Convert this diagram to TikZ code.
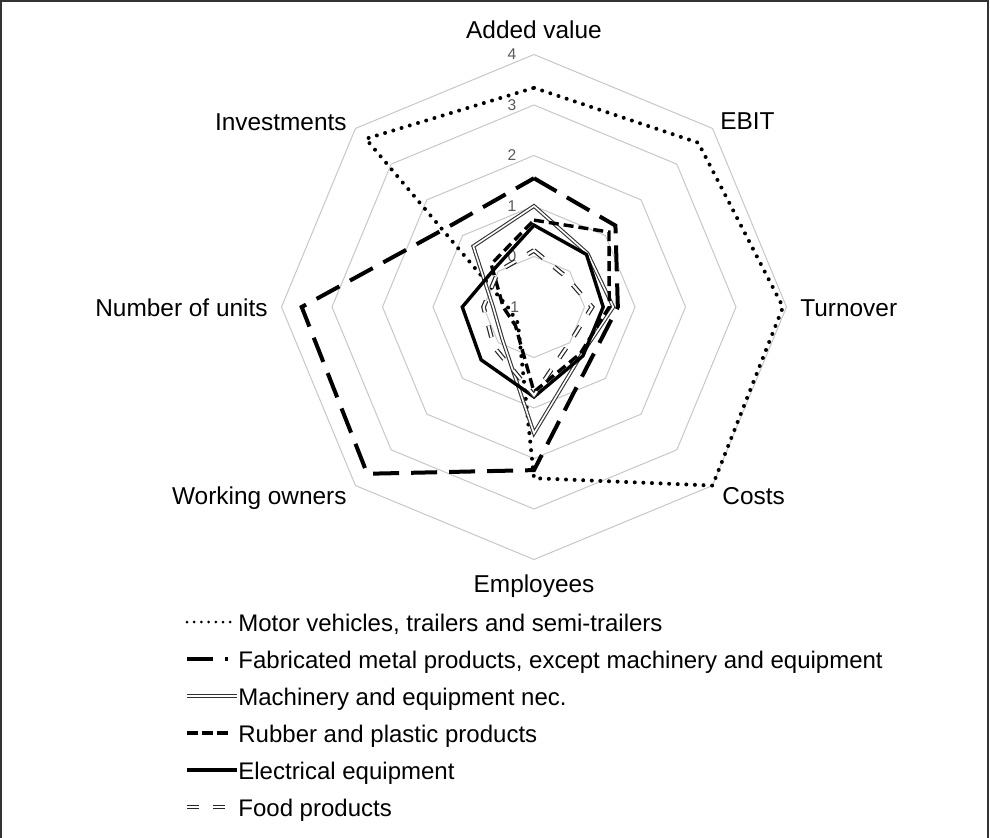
\documentclass[tikz,border=0pt]{standalone}
\usepackage{fontspec}
\setmainfont{Liberation Sans}
\usepackage{tikz}
\usetikzlibrary{calc}
\pgfdeclarelayer{bg}
\pgfsetlayers{bg,main}

\tikzset{
  ring/.style={draw=black!22, line width=0.5pt},
  motor/.style={line width=2pt, dash pattern=on 0pt off 4.3pt, line cap=round},
  metal/.style={line width=2pt, dash pattern=on 13pt off 6pt},
  machine/.style={draw=black!80, line width=0.55pt, double=white, double distance=0.8pt},
  rubber/.style={line width=1.7pt, dash pattern=on 5pt off 2.5pt},
  electric/.style={line width=1.7pt},
  food/.style={draw=black!85, line width=0.6pt, double=white, double distance=1.1pt, dash pattern=on 6pt off 7pt},
  axislabel/.style={font=\fontsize{12.2}{14}\selectfont, inner sep=0pt},
  ticklabel/.style={font=\fontsize{7.8}{9}\selectfont, text=black!65, inner sep=0pt},
  legendtext/.style={font=\fontsize{12}{14}\selectfont, anchor=base west, inner sep=0pt}
}

\begin{document}
\begin{tikzpicture}[x=0.5pt, y=0.5pt]
    \useasboundingbox (0,0) rectangle (990,837);
    \coordinate (C) at (534,530);

    \draw [black!80, line width=0.8pt] (1,-5) -- (1,836) -- (988,836) -- (988,-5);

    \begin{pgfonlayer}{bg}    % grid rings
        \foreach \k in {1,...,5}
            \draw [ring] ($(C)+(90:{50.5*\k})$) \foreach \a in {45,0,-45,-90,-135,-180,-225} { -- ($(C)+(\a:{50.5*\k})$) } -- cycle;
    \end{pgfonlayer}

    \foreach \v [count=\k from 0] in {-1,0,1,2,3,4}
        \node [ticklabel] (tick\k) at ($(C)+(-22,{50.5*\k})$) {\v};

    \node [axislabel, anchor=base] (addedvalue) at (534,798) { Added value };
    \node [axislabel, anchor=base west] (ebit) at (720,707) { EBIT };
    \node [axislabel, anchor=base west] (turnover) at (800,521) { Turnover };
    \node [axislabel, anchor=base west] (costs) at (722,333) { Costs };
    \node [axislabel, anchor=base] (employees) at (534,245) { Employees };
    \node [axislabel, anchor=base east] (owners) at (347,333) { Working owners };
    \node [axislabel, anchor=base east] (units) at (268,521) { Number of units };
    \node [axislabel, anchor=base east] (investments) at (347,706) { Investments };

    % data points, axis order: added value, EBIT, turnover, costs, employees, owners, units, investments
    \foreach \v [count=\i] in {3.34,3.6,3.93,4.0,2.39,-0.55,-0.48,3.71}
        \coordinate (motor\i) at ($(C)+({135-45*\i}:{50.5*(\v+1)})$);
    \foreach \v [count=\i] in {1.55,1.28,0.66,0.55,2.23,3.67,3.6,1.3}
        \coordinate (metal\i) at ($(C)+({135-45*\i}:{50.5*(\v+1)})$);
    \foreach \v [count=\i] in {1.0,0.5,0.57,0.33,1.5,-0.11,-0.19,0.7}
        \coordinate (machine\i) at ($(C)+({135-45*\i}:{50.5*(\v+1)})$);
    \foreach \v [count=\i] in {0.72,1.1,0.49,0.3,0.68,-0.48,-0.39,0.2}
        \coordinate (rubber\i) at ($(C)+({135-45*\i}:{50.5*(\v+1)})$);
    \foreach \v [count=\i] in {0.62,0.47,0.37,0.37,0.78,0.48,0.42,0.09}
        \coordinate (electric\i) at ($(C)+({135-45*\i}:{50.5*(\v+1)})$);
    \foreach \v [count=\i] in {0.12,-0.13,0.15,0.0,0.75,0.12,0.0,0.0}
        \coordinate (food\i) at ($(C)+({135-45*\i}:{50.5*(\v+1)})$);

    \draw [motor] (motor1) \foreach \i in {2,...,8} { -- (motor\i) } -- cycle;
    \draw [metal] (metal1) \foreach \i in {2,...,8} { -- (metal\i) } -- cycle;
    \draw [machine] (machine1) \foreach \i in {2,...,8} { -- (machine\i) } -- cycle;
    \draw [rubber] (rubber1) \foreach \i in {2,...,8} { -- (rubber\i) } -- cycle;
    \draw [electric] (electric1) \foreach \i in {2,...,8} { -- (electric\i) } -- cycle;
    \draw [food] (food1) \foreach \i in {2,...,8} { -- (food\i) } -- cycle;

    % legend
    \node [legendtext] (lmotor) at (238,206) { Motor vehicles, trailers and semi-trailers };
    \node [legendtext] (lmetal) at (238,169) { Fabricated metal products, except machinery and equipment };
    \node [legendtext] (lmachine) at (238,132) { Machinery and equipment nec. };
    \node [legendtext] (lrubber) at (238,95) { Rubber and plastic products };
    \node [legendtext] (lelectric) at (238,58) { Electrical equipment };
    \node [legendtext] (lfood) at (238,21) { Food products };
    \coordinate (kmotor) at (187,215);
    \coordinate (kmetal) at (187,178);
    \coordinate (kmachine) at (187,141);
    \coordinate (krubber) at (187,104);
    \coordinate (kelectric) at (187,67);
    \coordinate (kfood) at (187,30);
    \draw [motor, line width=1.5pt, dash pattern=on 0pt off 3.6pt] (kmotor) -- +(44,0);
    \draw [metal] (kmetal) -- +(41,0);
    \draw [machine] (kmachine) -- +(50,0);
    \draw [rubber, dash pattern=on 5.5pt off 2pt] (krubber) -- +(43,0);
    \draw [electric] (kelectric) -- +(50,0);
    \draw [food] (kfood) -- +(40,0);
\end{tikzpicture}
\end{document}
